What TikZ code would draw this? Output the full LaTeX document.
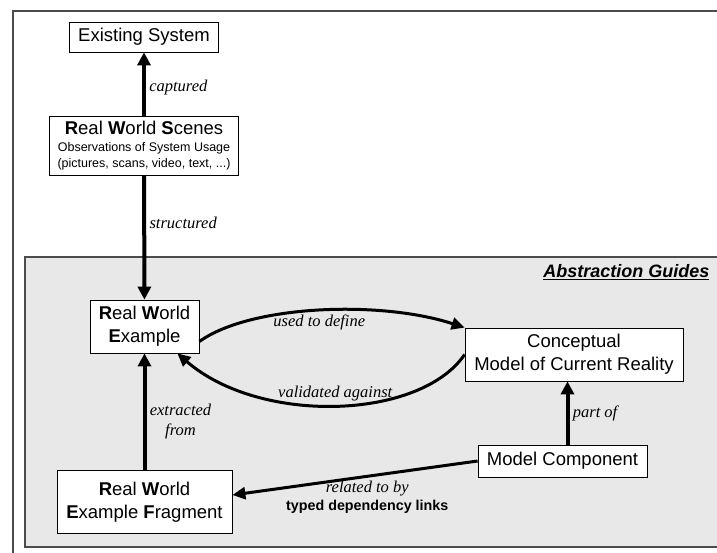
\documentclass[tikz,border=0pt]{standalone}
\usepackage{fontspec}
\setmainfont{Liberation Serif}
\setsansfont{Liberation Sans}
\usetikzlibrary{arrows.meta}
\tikzset{
  box/.style={draw,fill=white,line width=0.8pt,inner sep=0pt,align=center,font=\sffamily\fontsize{18.5}{23}\selectfont},
  flow/.style={line width=4pt,-{Triangle[length=13pt,width=13pt]}},
  link/.style={line width=3pt,-{Triangle[length=13pt,width=12pt]}},
  lbl/.style={font=\itshape\fontsize{16.5}{20}\selectfont},
}
\newcommand{\ini}[1]{\textbf{#1}}
\newcommand{\obs}{\fontsize{12.5}{16}\selectfont}
\begin{document}
\begin{tikzpicture}[x=1pt,y=-1pt]
  \useasboundingbox (0,0) rectangle (717,552);
  \draw[gray!60!black,line width=2pt] (13,560) -- (13,11) -- (725,11);
  \filldraw[fill=gray!18,draw=gray!60!black,line width=1.5pt] (25,547) rectangle (725,257);
  \node[anchor=east,font=\sffamily\bfseries\itshape\fontsize{18}{20}\selectfont] (guides) at (713,272) {\underline{Abstraction Guides}};

  \node[box,minimum width=189,minimum height=59] (rws) at (144,145.5) {\ini{R}eal \ini{W}orld \ini{S}cenes\\[-6pt]\obs Observations of System Usage\\[-7pt]\obs (pictures, scans, video, text, ...)};
  \node[box,minimum width=149,minimum height=30] (exist) at (144,37) {Existing System};
  \node[box,minimum width=109,minimum height=53] (rwe) at (144.5,326.5) {\ini{R}eal \ini{W}orld\\\ini{E}xample};
  \node[box,minimum width=175,minimum height=63] (frag) at (144.5,502) {\ini{R}eal \ini{W}orld\\\ini{E}xample \ini{F}ragment};
  \node[box,minimum width=218,minimum height=53] (cm) at (574,354.5) {Conceptual\\Model of Current Reality};
  \node[box,minimum width=169,minimum height=32] (mc) at (562.5,461) {Model Component};

  \draw[flow] (rws) -- node[lbl,right,pos=0.45]{captured} (exist);
  \draw[flow] (rws) -- node[lbl,right,pos=0.38]{structured} (rwe);
  \draw[flow] (frag) -- node[lbl,right,align=center,pos=0.415]{extracted\\from} (rwe);
  \draw[link] ([yshift=-15]rwe.east) .. controls (250,305) and (380,300) .. (cm.north west) node[lbl,below,pos=0.5]{used to define};
  \draw[link] (cm.west) .. controls (420,420) and (260,425) .. ([xshift=-22]rwe.south east) node[lbl,above,pos=0.5]{validated against};
  \draw[flow] ([xshift=5]mc.north) -- ([xshift=5]mc.north |- cm.south) node[lbl,right,midway]{part of};
  \draw[link] (mc.west) -- ([yshift=7]frag.east) node[below,pos=0.45,align=center,font=\fontsize{16.5}{18}\selectfont]{\textit{related to by}\\\sffamily\bfseries\fontsize{14.3}{18}\selectfont typed dependency links};
\end{tikzpicture}
\end{document}
